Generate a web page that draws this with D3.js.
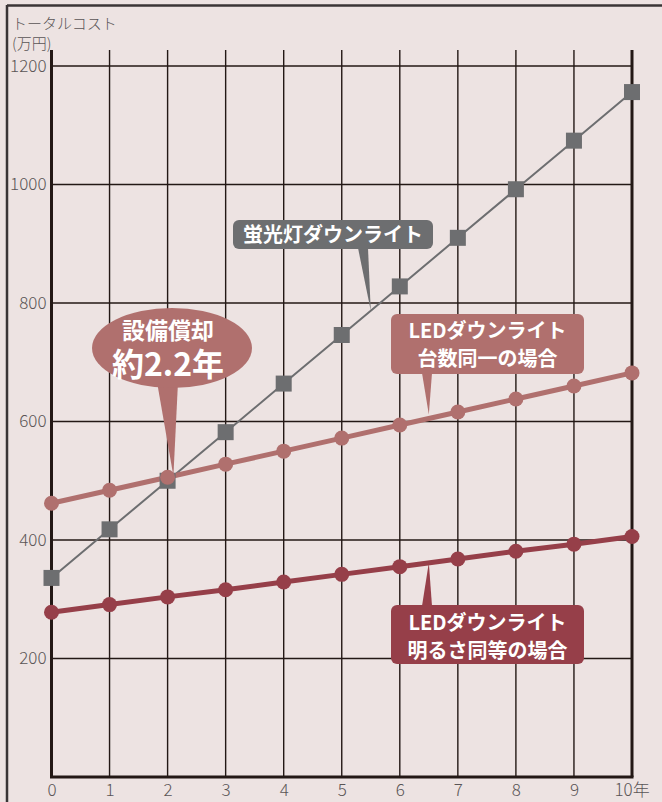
<!DOCTYPE html>
<html><head><meta charset="utf-8">
<script src="https://cdn.jsdelivr.net/npm/d3@7"></script>
<style>
html,body{margin:0;padding:0;background:#ede3e2;}
svg{display:block;}
</style></head>
<body>
<script>
const years = [0,1,2,3,4,5,6,7,8,9,10];
const fluorescent = [336,418,500,582,664,746,828,910,992,1074,1156];
const ledSameCount = [462,484,506,528,550,572,594,616,638,660,682];
const ledSameBright = [278,291,304,316,329,342,355,368,381,393,406];
const yTicks = [200,400,600,800,1000,1200];
const xTickLabels = ["0","1","2","3","4","5","6","7","8","9","10年"];
const yTitle = ["トータルコスト","(万円)"];
const labelFluor = "蛍光灯ダウンライト";
const labelSame = ["LEDダウンライト","台数同一の場合"];
const labelBright = ["LEDダウンライト","明るさ同等の場合"];
const labelPayback = ["設備償却","約2.2年"];
const paybackYears = 2.1;

const W = 662, H = 802;
const cGray = "#6d6e70", cPink = "#b0706e", cRed = "#963f49", cGrid = "#231815", cText = "#5a5556";
const FONT = "'Noto Sans CJK JP','Noto Sans',sans-serif";

const svg = d3.select("body").append("svg").attr("width", W).attr("height", H)
  .style("font-family", FONT);
svg.append("rect").attr("width", W).attr("height", H).attr("fill", "#ede3e2");
// frame
svg.append("line").attr("x1",7).attr("x2",W).attr("y1",5.5).attr("y2",5.5).attr("stroke","#3a3536").attr("stroke-width",2.5);
svg.append("line").attr("x1",7).attr("x2",7).attr("y1",5).attr("y2",H).attr("stroke","#3a3536").attr("stroke-width",2.5);

const x = d3.scaleLinear().domain([0,10]).range([51.5,632]);
const y = d3.scaleLinear().domain([0,1200]).range([777,66]);
const gridTop = 50;

// horizontal gridlines
svg.append("g").selectAll("line").data(yTicks).join("line")
  .attr("x1", x(0)).attr("x2", x(10)).attr("y1", d=>y(d)).attr("y2", d=>y(d))
  .attr("stroke", cGrid).attr("stroke-width", 1.4);
// vertical gridlines
svg.append("g").selectAll("line").data(years).join("line")
  .attr("x1", d=>x(d)).attr("x2", d=>x(d)).attr("y1", gridTop).attr("y2", y(0))
  .attr("stroke", cGrid).attr("stroke-width", d => (d===0||d===10)?3:1.4);
// bottom axis line
svg.append("line").attr("x1", x(0)-1.5).attr("x2", x(10)+1.5).attr("y1", y(0)).attr("y2", y(0))
  .attr("stroke", cGrid).attr("stroke-width", 3);

// axes labels
const xAxis = d3.axisBottom(x).tickValues(years).tickSize(0).tickPadding(6)
  .tickFormat((d,i)=>xTickLabels[i]);
const gx = svg.append("g").attr("transform", `translate(0,${y(0)+1})`).call(xAxis);
gx.select(".domain").remove();
gx.selectAll("text").attr("fill", cText).style("font-size","17px").style("font-family",FONT).style("font-weight","300");
gx.selectAll(".tick").filter(d=>d===10).select("text").attr("text-anchor","start").attr("dx", -18);

const yAxis = d3.axisLeft(y).tickValues(yTicks).tickSize(0).tickPadding(4).tickFormat(d3.format("d"));
const gy = svg.append("g").attr("transform", `translate(${x(0)-1},0)`).call(yAxis);
gy.select(".domain").remove();
gy.selectAll("text").attr("fill", cText).style("font-size","17px").style("font-family",FONT).style("font-weight","300");

// y title
svg.append("g").selectAll("text").data(yTitle).join("text")
  .attr("x", 12).attr("y", (d,i)=>29 + i*20)
  .attr("fill", cText).style("font-size","15px").style("font-weight","300").text(d=>d);

// series
const line = d3.line().x((d,i)=>x(years[i])).y(d=>y(d));
svg.append("path").datum(fluorescent).attr("d", line).attr("fill","none").attr("stroke", cGray).attr("stroke-width",2);
svg.append("path").datum(ledSameCount).attr("d", line).attr("fill","none").attr("stroke", cPink).attr("stroke-width",5);
svg.append("path").datum(ledSameBright).attr("d", line).attr("fill","none").attr("stroke", cRed).attr("stroke-width",5);

const sq = 16;
svg.append("g").selectAll("rect").data(fluorescent).join("rect")
  .attr("x",(d,i)=>x(years[i])-sq/2).attr("y", d=>y(d)-sq/2).attr("width",sq).attr("height",sq).attr("fill",cGray);
svg.append("g").selectAll("circle").data(ledSameCount).join("circle")
  .attr("cx",(d,i)=>x(years[i])).attr("cy", d=>y(d)).attr("r",7.5).attr("fill",cPink);
svg.append("g").selectAll("circle").data(ledSameBright).join("circle")
  .attr("cx",(d,i)=>x(years[i])).attr("cy", d=>y(d)).attr("r",7.5).attr("fill",cRed);

function valAt(arr, t){ const i=Math.floor(t); const f=t-i; return arr[i]+(arr[Math.min(i+1,arr.length-1)]-arr[i])*f; }

// callout: fluorescent
(function(){
  const bx=233, by=220, bw=200, bh=29;
  const tx = x(5.5), ty = y(valAt(fluorescent,5.5));
  const g = svg.append("g");
  g.append("path").attr("d", `M${358},${by+bh-1} L${tx},${ty} L${368},${by+bh-1} Z`).attr("fill", cGray);
  g.append("rect").attr("x",bx).attr("y",by).attr("width",bw).attr("height",bh).attr("rx",6).attr("fill",cGray);
  g.append("text").attr("x",bx+bw/2).attr("y",by+bh/2).attr("dy","0.36em").attr("text-anchor","middle")
    .attr("fill","#fff").style("font-size","20px").style("font-weight","700").text(labelFluor);
})();

// callout: LED same count
(function(){
  const bx=391, by=314, bw=193, bh=60;
  const tx = x(6.5), ty = y(valAt(ledSameCount,6.5))-4;
  const g = svg.append("g");
  g.append("path").attr("d", `M${422},${by+bh-1} L${tx},${ty} L${432},${by+bh-1} Z`).attr("fill", cPink);
  g.append("rect").attr("x",bx).attr("y",by).attr("width",bw).attr("height",bh).attr("rx",6).attr("fill",cPink);
  g.selectAll("text.l").data(labelSame).join("text").attr("x",bx+bw/2).attr("y",(d,i)=>by+17+i*28).attr("dy","0.36em")
    .attr("text-anchor","middle").attr("fill","#fff").style("font-size","20px").style("font-weight","700").text(d=>d);
})();

// callout: LED same brightness
(function(){
  const bx=391, by=605, bw=193, bh=59;
  const tx = x(6.5), ty = y(valAt(ledSameBright,6.5));
  const g = svg.append("g");
  g.append("path").attr("d", `M${422},${by+1} L${tx},${ty} L${432},${by+1} Z`).attr("fill", cRed);
  g.append("rect").attr("x",bx).attr("y",by).attr("width",bw).attr("height",bh).attr("rx",6).attr("fill",cRed);
  g.selectAll("text.l").data(labelBright).join("text").attr("x",bx+bw/2).attr("y",(d,i)=>by+18+i*28).attr("dy","0.36em")
    .attr("text-anchor","middle").attr("fill","#fff").style("font-size","20px").style("font-weight","700").text(d=>d);
})();

// callout: payback ellipse
(function(){
  const cx=172, cy=348, rx=80, ry=40;
  const tx = x(paybackYears), ty = y(valAt(ledSameCount,paybackYears));
  const g = svg.append("g");
  g.append("path").attr("d", `M${157},${cy+ry-6} L${tx},${ty} L${178},${cy+ry-6} Z`).attr("fill", cPink);
  g.append("ellipse").attr("cx",cx).attr("cy",cy).attr("rx",rx).attr("ry",ry).attr("fill",cPink);
  g.append("text").attr("x",cx-4).attr("y",331).attr("dy","0.36em").attr("text-anchor","middle")
    .attr("fill","#fff").style("font-size","23px").style("font-weight","700").text(labelPayback[0]);
  g.append("text").attr("x",cx-4).attr("y",364).attr("dy","0.36em").attr("text-anchor","middle")
    .attr("fill","#fff").style("font-size","32px").style("font-weight","700").text(labelPayback[1]);
})();
</script>
</body></html>
